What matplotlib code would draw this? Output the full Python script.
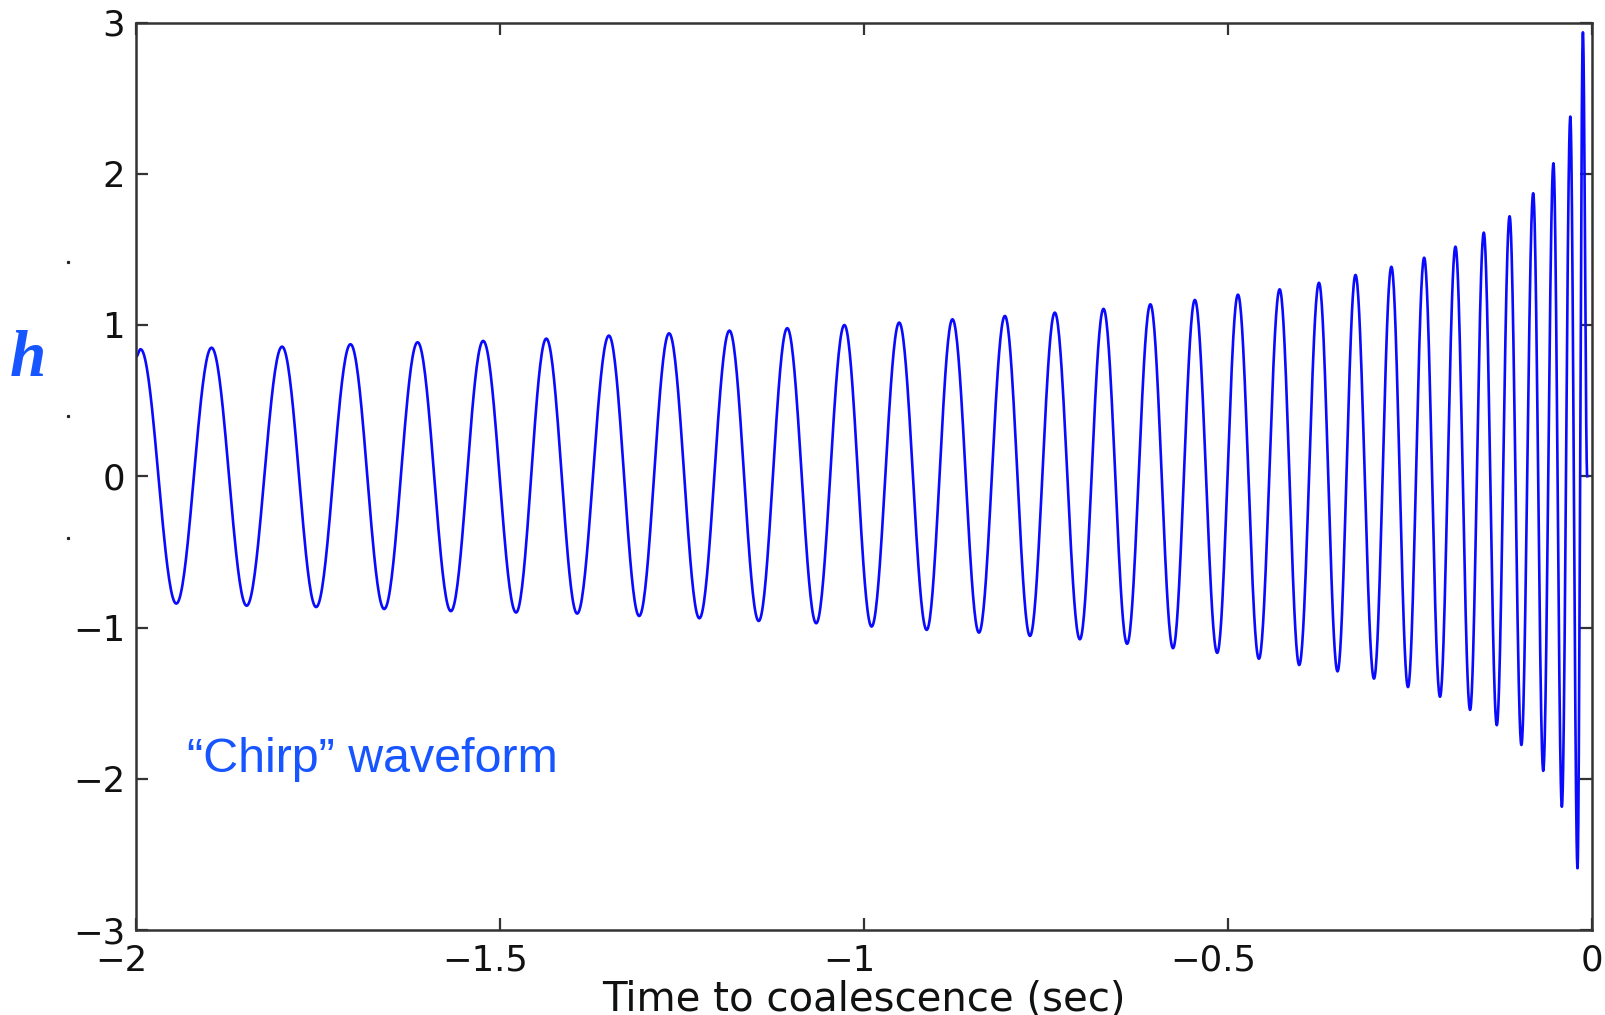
import numpy as np
import matplotlib
matplotlib.use("Agg")
import matplotlib.pyplot as plt
from matplotlib.lines import Line2D
from matplotlib.transforms import ScaledTranslation

# ---- data (successive extrema of the chirp) ----
t_extrema = [
    -2.0000, -1.9940, -1.9449, -1.8965, -1.8483, -1.7996, -1.7528, -1.7056,
    -1.6593, -1.6134, -1.5677, -1.5233, -1.4781, -1.4366, -1.3942, -1.3506,
    -1.3090, -1.2679, -1.2263, -1.1850, -1.1448, -1.1056, -1.0658, -1.0271,
    -0.9897, -0.9518, -0.9140, -0.8786, -0.8422, -0.8066, -0.7721, -0.7380,
    -0.7036, -0.6711, -0.6387, -0.6067, -0.5756, -0.5456, -0.5149, -0.4864,
    -0.4576, -0.4291, -0.4022, -0.3751, -0.3496, -0.3249, -0.2995, -0.2756,
    -0.2528, -0.2306, -0.2088, -0.1876, -0.1675, -0.1487, -0.1308, -0.1132,
    -0.0970, -0.0808, -0.0670, -0.0530, -0.0414, -0.0298, -0.0199, -0.0125,
    -0.0066,
]
h_extrema = [
    0.790, 0.840, -0.842, 0.850, -0.856, 0.857, -0.865, 0.873,
    -0.878, 0.886, -0.892, 0.895, -0.901, 0.910, -0.908, 0.930,
    -0.924, 0.945, -0.939, 0.963, -0.957, 0.979, -0.972, 1.000,
    -0.994, 1.016, -1.016, 1.038, -1.034, 1.060, -1.056, 1.082,
    -1.078, 1.107, -1.108, 1.137, -1.137, 1.166, -1.168, 1.201,
    -1.207, 1.236, -1.248, 1.279, -1.290, 1.331, -1.338, 1.385,
    -1.394, 1.445, -1.458, 1.518, -1.545, 1.611, -1.646, 1.719,
    -1.777, 1.871, -1.948, 2.069, -2.185, 2.378, -2.592, 2.935,
    0.000,
]

x_ticks = [-2, -1.5, -1, -0.5, 0]
x_tick_labels = ["\u22122", "\u22121.5", "\u22121", "\u22120.5", "0"]
y_ticks = [-3, -2, -1, 0, 1, 2, 3]
y_tick_labels = ["\u22123", "\u22122", "\u22121", "0", "1", "2", "3"]

x_label = "Time to coalescence (sec)"
y_label = "h"
annotation = "\u201cChirp\u201d waveform"

# ---- smooth rendering between successive extrema (half-cosine arcs) ----
t_arr = np.asarray(t_extrema)
h_arr = np.asarray(h_extrema)
xs, ys = [], []
for i in range(len(t_arr) - 1):
    s = np.linspace(0.0, 1.0, 40, endpoint=False)
    w = (1 - np.cos(np.pi * s)) / 2
    xs.append(t_arr[i] + (t_arr[i + 1] - t_arr[i]) * s)
    ys.append(h_arr[i] + (h_arr[i + 1] - h_arr[i]) * w)
xs.append([t_arr[-1]])
ys.append([h_arr[-1]])
xs = np.concatenate(xs)
ys = np.concatenate(ys)

W, H = 1606, 1015
fig = plt.figure(figsize=(W / 100, H / 100), dpi=100)
fig.patch.set_facecolor("white")

left, right, top, bottom = 136.2, 1592.0, 22.5, 930.0
ax = fig.add_axes([left / W, 1 - bottom / H, (right - left) / W, (bottom - top) / H])

ax.plot(xs, ys, color="#0a0aff", lw=1.9, solid_joinstyle="round")

ax.set_xlim(-2, 0)
ax.set_ylim(-3, 3)
ax.set_xticks(x_ticks)
ax.set_xticklabels(x_tick_labels)
ax.set_yticks(y_ticks)
ax.set_yticklabels(y_tick_labels)

edge = "#333333"
for sp in ax.spines.values():
    sp.set_linewidth(1.8)
    sp.set_color(edge)
ax.tick_params(axis="both", direction="in", length=8.5, width=1.6, color=edge,
               top=True, right=True, labelsize=25.5, labelcolor="#111111")
ax.tick_params(axis="x", pad=10)
ax.tick_params(axis="y", pad=8)
for lab in ax.get_xticklabels() + ax.get_yticklabels():
    lab.set_fontfamily("DejaVu Sans")
# numbers are centred on the tick with the minus sign hanging to the left
for lab in ax.get_xticklabels():
    if lab.get_text().startswith("\u2212"):
        lab.set_transform(lab.get_transform()
                          + ScaledTranslation(-10.5 / 72, 0, fig.dpi_scale_trans))

fig.text(0.5 * (left + right) / W, 1 - 980 / H, x_label, ha="center", va="top",
         fontsize=29, family="DejaVu Sans", color="#111111")

fig.text(10 / W, 1 - 376 / H, y_label, ha="left", va="baseline", fontsize=47,
         family="Liberation Serif", fontweight="bold", fontstyle="italic",
         color="#1655ff")

ax.text(-1.930, -1.955, annotation, ha="left", va="baseline", fontsize=34.8,
        family="Liberation Sans", color="#1655ff")

# small stray dots left of the axis in the reference
for yy in (261.7, 416.0, 537.7):
    fig.add_artist(Line2D([67.7 / W], [1 - yy / H], marker="s", markersize=1.3,
                          color="#222222", lw=0, transform=fig.transFigure))

fig.savefig("out.png", dpi=100, facecolor="white")
